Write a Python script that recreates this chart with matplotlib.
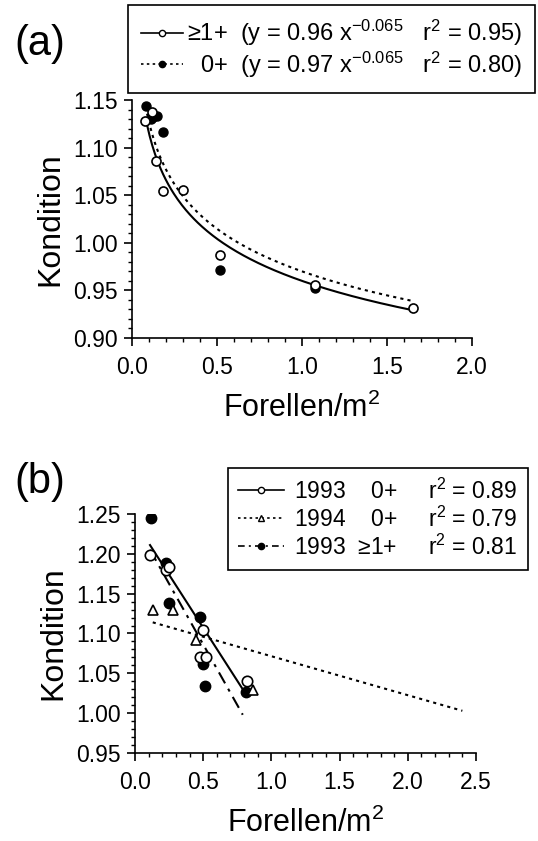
import numpy as np
import matplotlib
matplotlib.use("Agg")
import matplotlib.pyplot as plt
from matplotlib.lines import Line2D
from matplotlib.ticker import MultipleLocator, FormatStrFormatter

# ── Fonts ─────────────────────────────────────────────────────
plt.rcParams["font.family"] = ["Liberation Sans", "DejaVu Sans"]
plt.rcParams["mathtext.fontset"] = "custom"
plt.rcParams["mathtext.rm"] = "Liberation Sans"
plt.rcParams["mathtext.default"] = "regular"

# ── Data (a): condition vs. trout density ─────────────────────
a_old_x = [0.076, 0.119, 0.143, 0.182, 0.30, 0.518, 1.078, 1.653]
a_old_y = [1.128, 1.137, 1.086, 1.054, 1.055, 0.987, 0.956, 0.932]
a_yoy_x = [0.080, 0.114, 0.124, 0.149, 0.182, 0.518, 1.075]
a_yoy_y = [1.144, 1.130, 1.132, 1.133, 1.116, 0.971, 0.953]
# power fits y = c * x^b
fit_old = (0.96, -0.065)
fit_yoy = (0.97, -0.065)
fit_range = (0.08, 1.65)

# ── Data (b) ──────────────────────────────────────────────────
b93_0_x = [0.11, 0.227, 0.252, 0.50, 0.477, 0.518, 0.819]
b93_0_y = [1.199, 1.180, 1.183, 1.105, 1.070, 1.070, 1.041]
b94_0_x = [0.134, 0.276, 0.445, 0.867]
b94_0_y = [1.129, 1.129, 1.092, 1.029]
b93_1_x = [0.115, 0.227, 0.247, 0.477, 0.496, 0.516, 0.814]
b93_1_y = [1.245, 1.189, 1.138, 1.121, 1.062, 1.034, 1.027]
# regression line end points
line93_0_x, line93_0_y = [0.11, 0.82], [1.211, 1.022]
line94_0_x, line94_0_y = [0.13, 2.40], [1.114, 1.003]
line93_1_x, line93_1_y = [0.11, 0.79], [1.205, 0.998]

W, H = 538, 841
fig = plt.figure(figsize=(W / 100, H / 100), dpi=100)

def px_axes(l, t, r, b):
    return fig.add_axes([l / W, 1 - b / H, (r - l) / W, (b - t) / H])

def style(ax):
    for s in ("top", "right"):
        ax.spines[s].set_visible(False)
    for s in ("left", "bottom"):
        ax.spines[s].set_linewidth(1.2)
    ax.tick_params(which="major", length=6, width=1.2, labelsize=16.5, direction="out")
    ax.tick_params(axis="x", which="major", pad=7)
    ax.tick_params(axis="y", which="major", pad=4)
    ax.tick_params(which="minor", length=3, width=1.0, direction="out")
    ax.yaxis.set_major_formatter(FormatStrFormatter("%.2f"))
    ax.xaxis.set_major_formatter(FormatStrFormatter("%.1f"))

LW = 1.5
DOT = (0, (1.5, 2.0))
DASHDOT = (0, (6, 3, 1.5, 3))

# ── Panel (a) ─────────────────────────────────────────────────
ax1 = px_axes(132, 100, 472, 338)
xx = np.linspace(fit_range[0], fit_range[1], 200)
ax1.plot(xx, fit_old[0] * xx ** fit_old[1], color="k", lw=LW, ls="-", zorder=2)
ax1.plot(xx, fit_yoy[0] * xx ** fit_yoy[1], color="k", lw=LW, ls=DOT, zorder=2)
ax1.plot(a_yoy_x, a_yoy_y, "o", ms=6.5, mfc="k", mec="k", zorder=3)
ax1.plot(a_old_x, a_old_y, "o", ms=6.5, mfc="white", mec="k", mew=1.2, zorder=4)
ax1.set_xlim(0, 2.0)
ax1.set_ylim(0.90, 1.15)
ax1.xaxis.set_major_locator(MultipleLocator(0.5))
ax1.xaxis.set_minor_locator(MultipleLocator(0.1))
ax1.yaxis.set_major_locator(MultipleLocator(0.05))
ax1.yaxis.set_minor_locator(MultipleLocator(0.01))
style(ax1)
ax1.set_xlabel("Forellen/m$^2$", fontsize=22, labelpad=10)
ax1.set_ylabel("Kondition", fontsize=23, labelpad=6)

h_old = Line2D([], [], color="k", lw=1.2, ls="-", marker="o", ms=4.5, mfc="white", mec="k")
h_yoy = Line2D([], [], color="k", lw=1.2, ls=DOT, marker="o", ms=4.5, mfc="k", mec="k")
fig.legend([h_old, h_yoy],
           ["≥1+  (y = 0.96 x$^{-0.065}$   r$^2$ = 0.95)",
            "\u20070+  (y = 0.97 x$^{-0.065}$   r$^2$ = 0.80)"],
           loc="upper left", bbox_to_anchor=(128 / W, 1 - 5 / H), borderaxespad=0,
           fontsize=17, frameon=True, fancybox=False, edgecolor="k", framealpha=1,
           handlelength=1.8, handletextpad=0.15, labelspacing=0.05, borderpad=0.55)
fig.legends[-1].get_frame().set_linewidth(1.2)

fig.text(14 / W, 1 - 44 / H, "(a)", fontsize=30, ha="left", va="center")

# ── Panel (b) ─────────────────────────────────────────────────
ax2 = px_axes(135, 514, 476, 753)
ax2.plot(line93_0_x, line93_0_y, color="k", lw=LW, ls="-", zorder=2)
ax2.plot(line94_0_x, line94_0_y, color="k", lw=LW, ls=DOT, zorder=2)
ax2.plot(line93_1_x, line93_1_y, color="k", lw=LW, ls=DASHDOT, zorder=2)
ax2.plot(b93_1_x, b93_1_y, "o", ms=7.5, mfc="k", mec="k", zorder=3)
ax2.plot(b93_0_x, b93_0_y, "o", ms=7.5, mfc="white", mec="k", mew=1.2, zorder=4)
ax2.plot(b94_0_x, b94_0_y, "^", ms=7.5, mfc="white", mec="k", mew=1.2, zorder=4)
ax2.set_xlim(0, 2.5)
ax2.set_ylim(0.95, 1.25)
ax2.xaxis.set_major_locator(MultipleLocator(0.5))
ax2.xaxis.set_minor_locator(MultipleLocator(0.1))
ax2.yaxis.set_major_locator(MultipleLocator(0.05))
ax2.yaxis.set_minor_locator(MultipleLocator(0.01))
style(ax2)
ax2.set_xlabel("Forellen/m$^2$", fontsize=22, labelpad=10)
ax2.set_ylabel("Kondition", fontsize=23, labelpad=6)

g1 = Line2D([], [], color="k", lw=1.2, ls="-", marker="o", ms=4.5, mfc="white", mec="k")
g2 = Line2D([], [], color="k", lw=1.2, ls=DOT, marker="^", ms=4.5, mfc="white", mec="k")
g3 = Line2D([], [], color="k", lw=1.2, ls=(0, (4, 2.5, 1.2, 2.5)), marker="o", ms=4.5, mfc="k", mec="k")
fig.legend([g1, g2, g3],
           ["1993  \u20070+     r$^2$ = 0.89",
            "1994  \u20070+     r$^2$ = 0.79",
            "1993  ≥1+     r$^2$ = 0.81"],
           loc="upper left", bbox_to_anchor=(228 / W, 1 - 468 / H), borderaxespad=0,
           fontsize=16.5, frameon=True, fancybox=False, edgecolor="k", framealpha=1,
           handlelength=2.0, handletextpad=0.45, labelspacing=0.12, borderpad=0.45)
fig.legends[-1].get_frame().set_linewidth(1.2)

fig.text(14 / W, 1 - 482 / H, "(b)", fontsize=30, ha="left", va="center")

fig.savefig("out.png", dpi=100)
